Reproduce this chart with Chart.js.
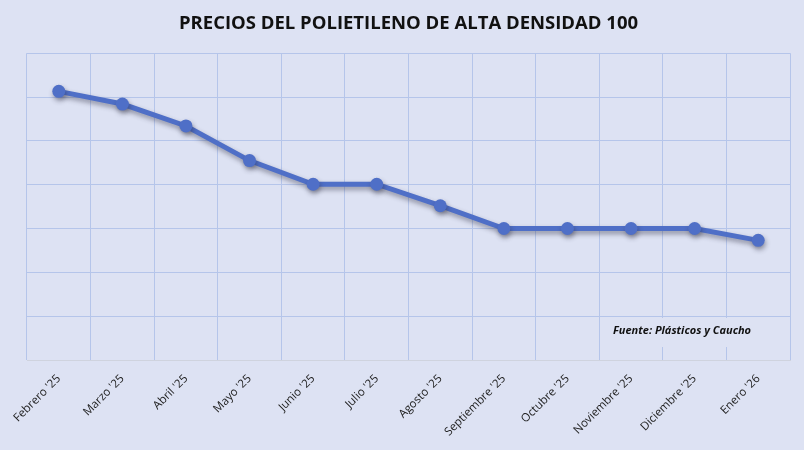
<!DOCTYPE html>
<html>
<head>
<meta charset="utf-8">
<script src="https://cdn.jsdelivr.net/npm/chart.js@4"></script>
<style>
  html, body { margin: 0; padding: 0; background: #dde2f3; }
  #wrap { width: 804px; height: 450px; }
</style>
</head>
<body>
<div id="wrap"><canvas id="grafico" width="804" height="450"></canvas></div>
<script>
const meses = ["Febrero '25", "Marzo '25", "Abril '25", "Mayo '25", "Junio '25", "Julio '25",
  "Agosto '25", "Septiembre '25", "Octubre '25", "Noviembre '25", "Diciembre '25", "Enero '26"];
const precios = [6.13, 5.84, 5.34, 4.55, 4.01, 4.01, 3.52, 3.0, 3.0, 3.0, 3.0, 2.73];
const ejeYMin = 0;
const ejeYMax = 7;

const colorLinea = '#4f6fc7';
const colorGrid = '#b5c5ea';

// caja con la fuente, abajo a la derecha del area del grafico
const fuentePlugin = {
  id: 'fuente',
  afterDatasetsDraw(chart) {
    const { ctx, chartArea } = chart;
    ctx.save();
    ctx.fillStyle = '#dde2f3';
    ctx.fillRect(chartArea.right - 190, chartArea.bottom - 42, 188, 29);
    ctx.font = 'italic bold 11px "Open Sans", sans-serif';
    ctx.fillStyle = '#111';
    ctx.textBaseline = 'middle';
    ctx.fillText('Fuente: Plásticos y Caucho', chartArea.right - 177, chartArea.bottom - 29);
    ctx.restore();
  }
};

// sombra suave bajo la linea
const sombraPlugin = {
  id: 'sombra',
  beforeDatasetsDraw(chart) {
    const ctx = chart.ctx;
    ctx.save();
    ctx.shadowColor = 'rgba(40, 40, 60, 0.45)';
    ctx.shadowBlur = 5;
    ctx.shadowOffsetX = 1;
    ctx.shadowOffsetY = 3;
  },
  afterDatasetsDraw(chart) {
    chart.ctx.restore();
  }
};

new Chart(document.getElementById('grafico'), {
  type: 'line',
  data: {
    labels: meses,
    datasets: [{
      data: precios,
      borderColor: colorLinea,
      backgroundColor: colorLinea,
      borderWidth: 5,
      pointRadius: 6.5,
      pointBorderWidth: 0,
      pointHoverRadius: 6.5,
      tension: 0,
      fill: false
    }]
  },
  options: {
    responsive: false,
    animation: false,
    layout: { padding: { left: 27, right: 14, top: 0, bottom: 0 } },
    plugins: {
      legend: { display: false },
      tooltip: { enabled: false },
      title: {
        display: true,
        text: 'PRECIOS DEL POLIETILENO DE ALTA DENSIDAD 100',
        color: '#111',
        font: { family: '"Open Sans", sans-serif', size: 18.5, weight: 'bold' },
        padding: { top: 13, bottom: 18 }
      }
    },
    scales: {
      x: {
        offset: true,
        grid: { offset: true, color: colorGrid, lineWidth: 1, drawTicks: false },
        border: { color: '#cfd3de' },
        ticks: {
          color: '#222',
          font: { family: '"Open Sans", sans-serif', size: 11.5 },
          minRotation: 45,
          maxRotation: 45,
          padding: 12
        },
        afterFit(scale) { scale.height = 90; }
      },
      y: {
        min: ejeYMin,
        max: ejeYMax,
        grid: { color: colorGrid, lineWidth: 1, drawTicks: false },
        border: { display: false },
        ticks: { display: false, stepSize: 1 },
        afterFit(scale) { scale.width = 0; }
      }
    }
  },
  plugins: [sombraPlugin, fuentePlugin]
});
</script>
</body>
</html>
